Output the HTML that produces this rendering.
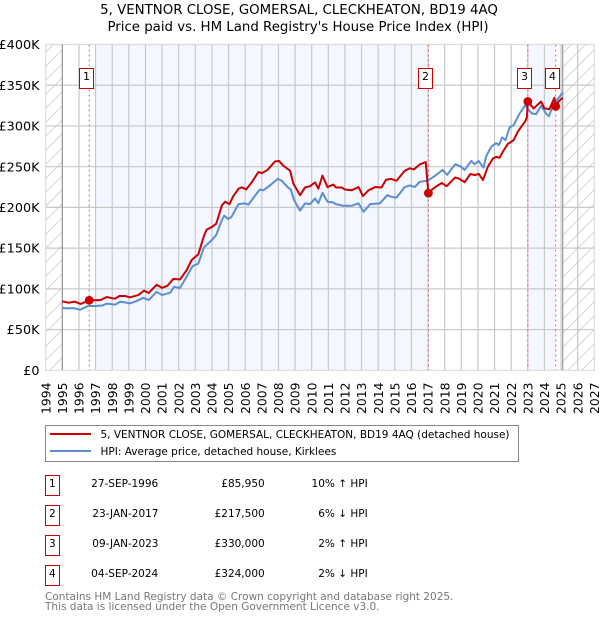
<!DOCTYPE html>
<html lang="en">
<head>
<meta charset="utf-8">
<title>5, VENTNOR CLOSE, GOMERSAL, CLECKHEATON, BD19 4AQ</title>
<style>
html,body{margin:0;padding:0;background:#fff;}
svg{display:block;font-family:"DejaVu Sans","Liberation Sans",sans-serif;}
</style>
</head>
<body>
<svg id="chart" xmlns="http://www.w3.org/2000/svg" width="600" height="620" viewBox="0 0 600 620">
  <defs>
    <pattern id="hatch" patternUnits="userSpaceOnUse" width="14" height="14">
      <path d="M-2 16L16 -2M-2 2L2 -2M12 16L16 12" stroke="#d6d6d6" stroke-width="1" fill="none"/>
    </pattern>
  </defs>
  <rect x="0" y="0" width="600" height="620" fill="#fff"/>
  <text x="299" y="14" text-anchor="middle" font-size="13.33" fill="#000">5, VENTNOR CLOSE, GOMERSAL, CLECKHEATON, BD19 4AQ</text>
  <text x="298" y="31" text-anchor="middle" font-size="13.33" fill="#000">Price paid vs. HM Land Registry's House Price Index (HPI)</text>
  <g id="plot"></g>
  <g>
    <rect x="45.5" y="425.5" width="473" height="36" fill="#fff" stroke="#888" stroke-width="1"/>
    <line x1="50" y1="434" x2="91" y2="434" stroke="#cc0000" stroke-width="2"/>
    <text x="100.5" y="438" font-size="10.5" fill="#000">5, VENTNOR CLOSE, GOMERSAL, CLECKHEATON, BD19 4AQ (detached house)</text>
    <line x1="50" y1="451" x2="91" y2="451" stroke="#5b8fd0" stroke-width="2"/>
    <text x="100.5" y="455" font-size="10.5" fill="#000">HPI: Average price, detached house, Kirklees</text>
  </g>
  <g font-size="10.5" fill="#000">
    <g>
      <rect x="45.5" y="475.5" width="14" height="20" fill="#fff" stroke="#cc0000" stroke-width="1"/>
      <text x="52.3" y="487" text-anchor="middle">1</text>
      <text x="124.7" y="487" text-anchor="middle">27-SEP-1996</text>
      <text x="264.7" y="487" text-anchor="end">£85,950</text>
      <text x="367.7" y="487" text-anchor="end">10% ↑ HPI</text>
    </g>
    <g>
      <rect x="45.5" y="505.5" width="14" height="20" fill="#fff" stroke="#cc0000" stroke-width="1"/>
      <text x="52.3" y="517" text-anchor="middle">2</text>
      <text x="125.4" y="517" text-anchor="middle">23-JAN-2017</text>
      <text x="264.7" y="517" text-anchor="end">£217,500</text>
      <text x="367.7" y="517" text-anchor="end">6% ↓ HPI</text>
    </g>
    <g>
      <rect x="45.5" y="535.5" width="14" height="20" fill="#fff" stroke="#cc0000" stroke-width="1"/>
      <text x="52.3" y="547" text-anchor="middle">3</text>
      <text x="125.4" y="547" text-anchor="middle">09-JAN-2023</text>
      <text x="264.7" y="547" text-anchor="end">£330,000</text>
      <text x="367.7" y="547" text-anchor="end">2% ↑ HPI</text>
    </g>
    <g>
      <rect x="45.5" y="565.5" width="14" height="20" fill="#fff" stroke="#cc0000" stroke-width="1"/>
      <text x="52.3" y="577" text-anchor="middle">4</text>
      <text x="124.7" y="577" text-anchor="middle">04-SEP-2024</text>
      <text x="264.7" y="577" text-anchor="end">£324,000</text>
      <text x="367.7" y="577" text-anchor="end">2% ↓ HPI</text>
    </g>
  </g>
  <text x="45" y="600" font-size="10.5" fill="#777">Contains HM Land Registry data © Crown copyright and database right 2025.</text>
  <text x="45" y="610" font-size="10.5" fill="#777">This data is licensed under the Open Government Licence v3.0.</text>
</svg>
<script>
var yearTicks = [1994,1995,1996,1997,1998,1999,2000,2001,2002,2003,2004,2005,2006,2007,2008,2009,2010,2011,2012,2013,2014,2015,2016,2017,2018,2019,2020,2021,2022,2023,2024,2025,2026,2027];
var priceTicks = [0,50,100,150,200,250,300,350,400];
var priceTickLabels = ['£0','£50K','£100K','£150K','£200K','£250K','£300K','£350K','£400K'];
var saleYears = [1996.62,2017.02,2023.0,2024.68];
var salePrices = [85.95,217.5,330,324];
var saleLabels = ['1','2','3','4'];
var shadeStarts = [1997,2023.0];
var shadeEnds = [2017.02,2024.68];
var dataEndYear = 2025.1;

var hpiYears = [1995,1995.26,1995.66,1996.06,1996.56,1997,1997.4,1997.67,1998.17,1998.5,1999.07,1999.47,1999.87,2000.2,2000.67,2001,2001.5,2001.72,2002.08,2002.48,2002.84,2003.18,2003.52,2004,2004.25,2004.6,2004.73,2004.98,2005.18,2005.6,2005.99,2006.19,2006.69,2006.89,2007.09,2007.49,2007.96,2008.2,2008.6,2008.74,2008.94,2009.3,2009.6,2009.9,2010.2,2010.4,2010.65,2010.95,2011.3,2011.46,2011.9,2012.4,2012.82,2013.12,2013.52,2014.1,2014.55,2014.8,2015.1,2015.6,2015.9,2016.2,2016.5,2016.97,2017.4,2017.87,2018.15,2018.63,2018.93,2019.2,2019.6,2019.8,2020.04,2020.34,2020.5,2020.8,2021.1,2021.26,2021.46,2021.66,2021.9,2022.15,2022.5,2022.85,2023.05,2023.25,2023.5,2023.8,2024.1,2024.27,2024.45,2024.75,2025.1];
var hpiValues = [76.5,76,76.3,74.4,79,79,79.5,81.8,80.6,84.3,82.2,85,89,86.3,96.3,92.4,95.5,102.5,101,115,128,131,151,160,166,184.5,189.8,185.7,188.5,204,205,203.3,217,222,221,227,235,232.7,224,222,209,196,205,204,211,205,218,207,206,204,202,202,205,194.7,204,205,215,213,212,225,227,225,231.5,232.7,238.5,246,240,253,250.6,246,257,253,257,248.7,263,274.4,279,276.5,286,282.6,298,301,315,325.5,319.5,315.3,314.5,324.7,315.3,312,321.5,331.7,341];

var paidYears = [1995,1995.36,1995.76,1996.1,1996.62,1997,1997.3,1997.67,1998.17,1998.43,1998.77,1999.07,1999.57,1999.91,2000.2,2000.67,2001,2001.32,2001.68,2002.08,2002.48,2002.78,2003.18,2003.52,2003.68,2004,2004.26,2004.6,2004.8,2005.06,2005.26,2005.6,2005.8,2006.06,2006.4,2006.8,2007,2007.34,2007.8,2008.04,2008.3,2008.7,2008.9,2009.3,2009.6,2009.9,2010.2,2010.4,2010.65,2010.95,2011.3,2011.46,2011.8,2012,2012.4,2012.82,2013.08,2013.42,2013.82,2014.2,2014.47,2014.8,2015.1,2015.6,2015.9,2016.15,2016.5,2016.86,2017.02,2017.3,2017.82,2018.12,2018.63,2018.83,2019.2,2019.55,2019.8,2020.06,2020.3,2020.46,2020.6,2020.9,2021.1,2021.3,2021.55,2021.8,2022.15,2022.4,2022.85,2022.95,2023.0,2023.35,2023.8,2024,2024.3,2024.6,2024.68,2024.85,2025.1];
var paidValues = [84.7,83,84.3,81.4,85.95,86,86.3,89.9,87.9,91.2,91.2,89.6,92.4,97.8,95,105,101.2,103.7,112.3,111.5,123,135.4,142.4,165,172.7,176,180,202.6,207,204,213,223,224.6,222,231,243.5,242,246,256.5,257,251,245,229,215,224.5,226,230.7,223,239,225,228,224.5,224.5,222,221,225,214,221,225,224.5,234,235,232.7,245,248,246.6,252.7,255.6,217.5,223,230,226,236.8,235.6,231,241,239.7,241,233.5,242.5,250,260,262,261,270,278,282.6,293,306,311,330,321.5,330,321.5,320.6,334.6,324,330,334.6];

var plotLeft = 45.7, plotRight = 594.3, plotTop = 44.5, plotBottom = 370.3;
var firstYear = 1994, lastYear = 2027, maxPrice = 400;
var SVGNS = 'http://www.w3.org/2000/svg';
var plot = document.getElementById('plot');

function xScale(year) {
  return plotLeft + (year - firstYear) / (lastYear - firstYear) * (plotRight - plotLeft);
}
function yScale(price) {
  return plotBottom - price / maxPrice * (plotBottom - plotTop);
}
function make(tag, attrs, parent, text) {
  var el = document.createElementNS(SVGNS, tag);
  for (var k in attrs) { el.setAttribute(k, attrs[k]); }
  if (text !== undefined) { el.textContent = text; }
  (parent || plot).appendChild(el);
  return el;
}
function linePoints(xs, ys) {
  return xs.map(function (x, i) { return xScale(x).toFixed(2) + ',' + yScale(ys[i]).toFixed(2); }).join(' ');
}

var el;
el = make('rect', {x: xScale(firstYear), y: plotTop, width: xScale(1995) - xScale(firstYear), height: plotBottom - plotTop, fill: 'url(#hatch)'});


el = make('rect', {x: xScale(dataEndYear), y: plotTop, width: xScale(lastYear) - xScale(dataEndYear), height: plotBottom - plotTop, fill: 'url(#hatch)'});



shadeStarts.forEach(function (start, i) {
  var band = make('rect', {x: xScale(start), y: plotTop, width: xScale(shadeEnds[i]) - xScale(start), height: plotBottom - plotTop, fill: '#f4f7ff'});
  
  
});

priceTicks.forEach(function (p, i) {
  var g = make('line', {x1: plotLeft, x2: plotRight, y1: yScale(p), y2: yScale(p), stroke: p === 0 || p === maxPrice ? '#dcdcdc' : '#c8c8c8', 'stroke-width': 1.2});
  
  
  var t = make('text', {x: 39.5, y: yScale(p) + 4.6, 'text-anchor': 'end', 'font-size': 12.8, fill: '#000'}, plot, priceTickLabels[i]);
  
  
});

yearTicks.forEach(function (y) {
  var edge = y === firstYear || y === lastYear;
  var g = make('line', {x1: xScale(y), x2: xScale(y), y1: plotTop, y2: plotBottom, stroke: edge ? '#dcdcdc' : '#c8c8c8', 'stroke-width': 1.2});
  
  
  var tx = xScale(y) + 4.6;
  var t = make('text', {x: 0, y: 0, 'text-anchor': 'end', 'font-size': 12.4, fill: '#000', transform: 'translate(' + tx.toFixed(2) + ',382.5) rotate(-90)'}, plot, String(y));
  
  
});

el = make('line', {x1: xScale(1995), x2: xScale(1995), y1: plotTop, y2: plotBottom, stroke: '#999', 'stroke-width': 1.2});


el = make('line', {x1: xScale(dataEndYear), x2: xScale(dataEndYear), y1: plotTop, y2: plotBottom, stroke: '#999', 'stroke-width': 1.2});



saleYears.forEach(function (y) {
  var v = make('line', {x1: xScale(y), x2: xScale(y), y1: plotTop, y2: plotBottom, stroke: '#e8606a', 'stroke-width': 1, 'stroke-dasharray': '2 3'});
  
  
});

el = make('polyline', {points: linePoints(hpiYears, hpiValues), fill: 'none', stroke: '#5b8fd0', 'stroke-width': 2, 'stroke-linejoin': 'round'});


el = make('polyline', {points: linePoints(paidYears, paidValues), fill: 'none', stroke: '#cc0000', 'stroke-width': 2, 'stroke-linejoin': 'round'});



saleYears.forEach(function (y, i) {
  var m = make('circle', {cx: xScale(y), cy: yScale(salePrices[i]), r: 4.4, fill: '#cc0000'});
  
  
  var bx = Math.floor(xScale(y) - 3) - 7 + 0.5;
  var b = make('rect', {x: bx, y: 68.5, width: 14, height: 20, fill: '#fff', stroke: '#cc0000', 'stroke-width': 1});
  
  
  var t = make('text', {x: bx + 7, y: 80, 'text-anchor': 'middle', 'font-size': 11, fill: '#000'}, plot, saleLabels[i]);
  
  
});
</script>
</body>
</html>
